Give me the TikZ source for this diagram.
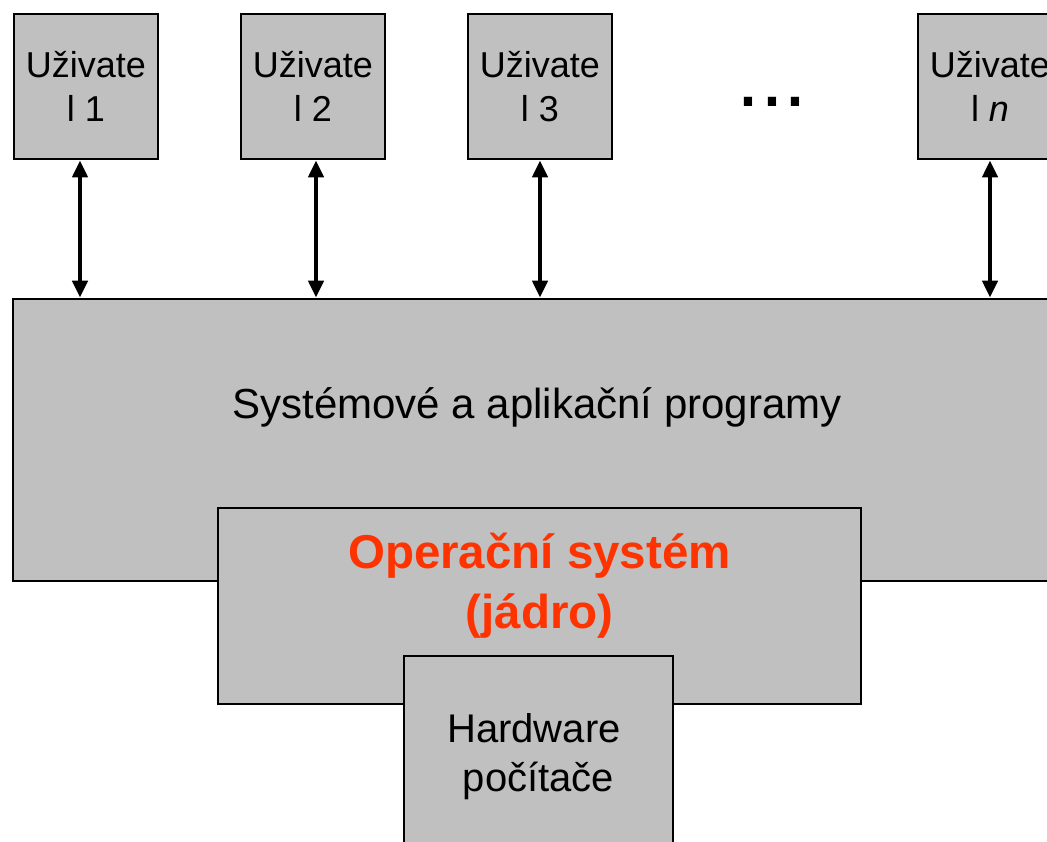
\documentclass[tikz,border=0pt]{standalone}
\usepackage{fontspec}
\setmainfont{Liberation Sans}
\usetikzlibrary{arrows.meta}
\definecolor{boxgray}{RGB}{192,192,192}
\definecolor{osred}{RGB}{255,51,0}
\tikzset{
  box/.style={draw=black, line width=2.8pt, fill=boxgray, inner sep=0pt, align=center},
  userbox/.style={box, minimum width=144pt, minimum height=145pt, font=\fontsize{36}{44}\selectfont},
  lbl/.style={anchor=base, inner sep=0pt},
  arr/.style={{Triangle[width=15pt,length=17pt]}-{Triangle[width=15pt,length=17pt]}, line width=4.5pt}
}
\begin{document}
\begin{tikzpicture}[x=1pt,y=-1pt]
\useasboundingbox (0,0) rectangle (1047,841);
\begin{scope}
\clip (0,0) rectangle (1047,841);
% users
\node[userbox, text depth=0pt] (u1) at (86,86.5) {Uživate\\l 1};
\node[userbox] (u2) at (313,86.5) {Uživate\\l 2};
\node[userbox] (u3) at (540,86.5) {Uživate\\l 3};
\node[userbox] (un) at (990,86.5) {Uživate\\l \textit{n}};
\node[lbl, font=\fontsize{86}{86}\selectfont] (dots) at (772,106) {...};
% main layers
\node[box, minimum width=1062pt, minimum height=282pt] (big) at (544,440) {};
\node[lbl, font=\fontsize{42}{50}\selectfont] (bigtext) at (537,418) {Systémové a aplikační programy};
\node[box, minimum width=643pt, minimum height=196pt] (os) at (539.5,606) {};
\node[lbl, font=\fontsize{47.5}{57}\selectfont\bfseries, text=osred] (os1) at (539.5,568) {Operační systém};
\node[lbl, font=\fontsize{47.5}{57}\selectfont\bfseries, text=osred] (os2) at (539.5,628) {(jádro)};
\node[box, minimum width=269pt, minimum height=244pt] (hw) at (538.5,778) {};
\node[lbl, font=\fontsize{40}{48}\selectfont] (hw1) at (534,742) {Hardware};
\node[lbl, font=\fontsize{40}{48}\selectfont] (hw2) at (538.5,791) {počítače};
% arrows
\coordinate (a1) at (80,0);
\coordinate (a2) at (316,0);
\coordinate (a3) at (540,0);
\coordinate (an) at (990,0);
\draw[arr] (u1.south -| a1) -- (big.north -| a1);
\draw[arr] (u2.south -| a2) -- (big.north -| a2);
\draw[arr] (u3.south -| a3) -- (big.north -| a3);
\draw[arr] (un.south -| an) -- (big.north -| an);
\end{scope}
\end{tikzpicture}
\end{document}
